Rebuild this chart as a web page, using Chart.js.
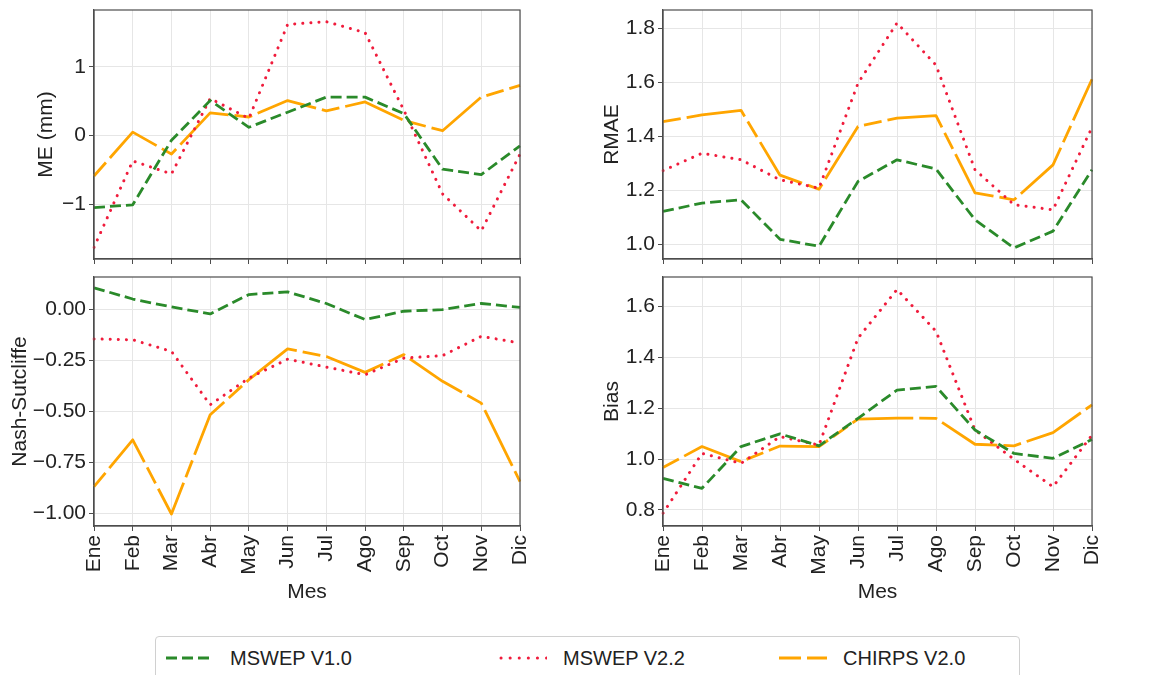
<!DOCTYPE html>
<html>
<head>
<meta charset="utf-8">
<title>MSWEP / CHIRPS - métricas mensuales</title>
<script src="https://cdn.jsdelivr.net/npm/chart.js@4.4.7/dist/chart.umd.min.js"></script>
<style>
  html, body { margin: 0; padding: 0; background: #fff; }
  #page { position: relative; width: 1167px; height: 675px; overflow: hidden;
          font-family: "Liberation Sans", Arial, sans-serif; }
  .panel { position: absolute; }
  #legend { position: absolute; left: 155px; top: 636px; width: 865px; height: 50px;
            border: 1px solid #d0d0d0; border-radius: 4px; box-sizing: border-box; }
  .item { position: absolute; top: 0; height: 42px; display: flex; align-items: center;
          font-size: 20px; color: #222; }
  .item svg { margin-right: 16px; }
</style>
</head>
<body>
<div id="page">
  <div class="panel" style="left:0;top:0"><canvas id="cME" width="540" height="270"></canvas></div>
  <div class="panel" style="left:540px;top:0"><canvas id="cRMAE" width="627" height="270"></canvas></div>
  <div class="panel" style="left:0;top:270px"><canvas id="cNS" width="540" height="350"></canvas></div>
  <div class="panel" style="left:540px;top:270px"><canvas id="cBias" width="627" height="350"></canvas></div>

  <div id="legend">
    <div class="item" style="left:10px">
      <svg width="48" height="10"><line x1="0" y1="5" x2="48" y2="5" stroke="#2a8a2a" stroke-width="3" stroke-dasharray="11 5"/></svg>
      <span>MSWEP V1.0</span>
    </div>
    <div class="item" style="left:343px">
      <svg width="48" height="10"><line x1="2" y1="5" x2="48" y2="5" stroke="#f01c3c" stroke-width="3" stroke-linecap="round" stroke-dasharray="0.1 9"/></svg>
      <span>MSWEP V2.2</span>
    </div>
    <div class="item" style="left:623px">
      <svg width="48" height="10"><line x1="0" y1="5" x2="48" y2="5" stroke="#ffa500" stroke-width="3" stroke-dasharray="22 6"/></svg>
      <span>CHIRPS V2.0</span>
    </div>
  </div>
</div>

<script>
(function () {
  "use strict";

  // ---- Data ----
  var months = ["Ene", "Feb", "Mar", "Abr", "May", "Jun", "Jul", "Ago", "Sep", "Oct", "Nov", "Dic"];
  var seriesNames = ["MSWEP V1.0", "MSWEP V2.2", "CHIRPS V2.0"];

  var meV10 = [-1.05, -1.01, -0.07, 0.51, 0.12, 0.34, 0.56, 0.56, 0.32, -0.49, -0.57, -0.15];
  var meV22 = [-1.63, -0.37, -0.56, 0.54, 0.25, 1.62, 1.66, 1.50, 0.37, -0.85, -1.39, -0.27];
  var meCH  = [-0.59, 0.05, -0.27, 0.33, 0.27, 0.51, 0.36, 0.49, 0.22, 0.07, 0.56, 0.73];

  var rmaeV10 = [1.123, 1.154, 1.166, 1.020, 0.994, 1.234, 1.314, 1.280, 1.092, 0.988, 1.050, 1.277];
  var rmaeV22 = [1.274, 1.338, 1.314, 1.240, 1.209, 1.597, 1.820, 1.664, 1.277, 1.148, 1.129, 1.434];
  var rmaeCH  = [1.455, 1.480, 1.497, 1.257, 1.205, 1.437, 1.468, 1.477, 1.192, 1.166, 1.295, 1.612];

  var nsV10 = [0.107, 0.052, 0.013, -0.021, 0.074, 0.087, 0.030, -0.049, -0.008, 0.000, 0.030, 0.011];
  var nsV22 = [-0.144, -0.148, -0.205, -0.467, -0.336, -0.243, -0.282, -0.320, -0.238, -0.226, -0.131, -0.164];
  var nsCH  = [-0.869, -0.639, -1.003, -0.516, -0.344, -0.193, -0.230, -0.308, -0.221, -0.352, -0.459, -0.844];

  var biasV10 = [0.924, 0.885, 1.049, 1.099, 1.052, 1.160, 1.271, 1.285, 1.114, 1.022, 1.003, 1.077];
  var biasV22 = [0.787, 1.022, 0.983, 1.088, 1.055, 1.475, 1.666, 1.502, 1.114, 0.999, 0.891, 1.094];
  var biasCH  = [0.967, 1.049, 0.990, 1.051, 1.049, 1.157, 1.161, 1.160, 1.058, 1.052, 1.104, 1.213];

  // tick values
  var meTicks   = [-1, 0, 1];
  var rmaeTicks = [1.0, 1.2, 1.4, 1.6, 1.8];
  var nsTicks   = [-1.0, -0.75, -0.5, -0.25, 0.0];
  var biasTicks = [0.8, 1.0, 1.2, 1.4, 1.6];

  // ---- Styles ----
  var INK = "#222222";
  var FRAME = "#4d4d4d";
  var GRID = "#e6e6e6";
  var seriesStyle = [
    { color: "#2a8a2a", width: 2.8, dash: [11, 5], cap: "butt", offset: 0 },
    { color: "#f01c3c", width: 3, dash: [0.1, 8], cap: "round", offset: 0 },
    { color: "#ffa500", width: 2.8, dash: [62, 6, 18, 6], cap: "butt", offset: 68 }
  ];

  Chart.defaults.font.family = '"Liberation Sans", Arial, sans-serif';
  Chart.defaults.font.size = 21;
  Chart.defaults.color = INK;

  function fmt(v, dec) {
    return (v < 0 ? "\u2212" : "") + Math.abs(v).toFixed(dec);
  }

  // full box around the plot area
  var framePlugin = {
    id: "frame",
    afterDraw: function (chart) {
      var a = chart.chartArea, c = chart.ctx;
      c.save();
      c.strokeStyle = FRAME;
      c.lineWidth = 1.2;
      c.strokeRect(a.left, a.top, a.right - a.left, a.bottom - a.top);
      c.restore();
    }
  };

  function makePanel(p) {
    var datasets = p.series.map(function (vals, i) {
      var s = seriesStyle[i];
      return {
        label: seriesNames[i],
        data: vals,
        borderColor: s.color,
        backgroundColor: s.color,
        borderWidth: s.width,
        borderDash: s.dash,
        borderDashOffset: s.offset,
        borderCapStyle: s.cap,
        borderJoinStyle: "round",
        pointRadius: 0,
        tension: 0,
        fill: false
      };
    });

    return new Chart(document.getElementById(p.id), {
      type: "line",
      data: { labels: months, datasets: datasets },
      plugins: [framePlugin],
      options: {
        responsive: false,
        animation: false,
        events: [],
        layout: { autoPadding: false, padding: { top: p.padTop, right: p.padRight, left: 0, bottom: 0 } },
        plugins: { legend: { display: false }, tooltip: { enabled: false } },
        scales: {
          x: {
            type: "category",
            offset: false,
            grid: { color: GRID, tickColor: FRAME, tickLength: 5, tickWidth: 1 },
            border: { display: true, color: FRAME, width: 1.2 },
            ticks: {
              display: p.showX,
              autoSkip: false,
              maxRotation: 90,
              minRotation: 90,
              padding: 4,
              color: INK
            },
            title: {
              display: p.showX,
              text: "Mes",
              color: INK,
              font: { size: 21 },
              padding: { top: 0, bottom: 15 }
            },
            afterFit: function (axis) {
              axis.height = p.xHeight;
              axis.paddingLeft = 0;
              axis.paddingRight = 0;
            }
          },
          y: {
            min: p.min,
            max: p.max,
            grid: { color: GRID, tickColor: FRAME, tickLength: 5, tickWidth: 1 },
            border: { display: true, color: FRAME, width: 1.2 },
            afterBuildTicks: function (axis) {
              axis.ticks = p.ticks.map(function (v) { return { value: v }; });
            },
            ticks: {
              padding: 3,
              color: INK,
              callback: function (v) { return fmt(v, p.dec); }
            },
            title: {
              display: true,
              text: p.title,
              color: INK,
              font: { size: 21 },
              padding: { top: p.titlePad, bottom: 0 }
            },
            afterFit: function (axis) {
              axis.width = p.yWidth;
              axis.paddingTop = 0;
              axis.paddingBottom = 0;
            }
          }
        }
      }
    });
  }

  var panels = [
    { id: "cME",   padTop: 10, padRight: 20, yWidth: 94,  xHeight: 11, showX: false,
      title: "ME (mm)", titlePad: 34, min: -1.80, max: 1.83, ticks: meTicks, dec: 0,
      series: [meV10, meV22, meCH] },
    { id: "cRMAE", padTop: 10, padRight: 75, yWidth: 123, xHeight: 11, showX: false,
      title: "RMAE", titlePad: 60, min: 0.947, max: 1.868, ticks: rmaeTicks, dec: 1,
      series: [rmaeV10, rmaeV22, rmaeCH] },
    { id: "cNS",   padTop: 7, padRight: 20, yWidth: 94,  xHeight: 94, showX: true,
      title: "Nash-Sutcliffe", titlePad: 8, min: -1.062, max: 0.16, ticks: nsTicks, dec: 2,
      series: [nsV10, nsV22, nsCH] },
    { id: "cBias", padTop: 7, padRight: 75, yWidth: 123, xHeight: 94, showX: true,
      title: "Bias", titlePad: 60, min: 0.737, max: 1.715, ticks: biasTicks, dec: 1,
      series: [biasV10, biasV22, biasCH] }
  ];

  panels.forEach(makePanel);
})();
</script>
</body>
</html>
